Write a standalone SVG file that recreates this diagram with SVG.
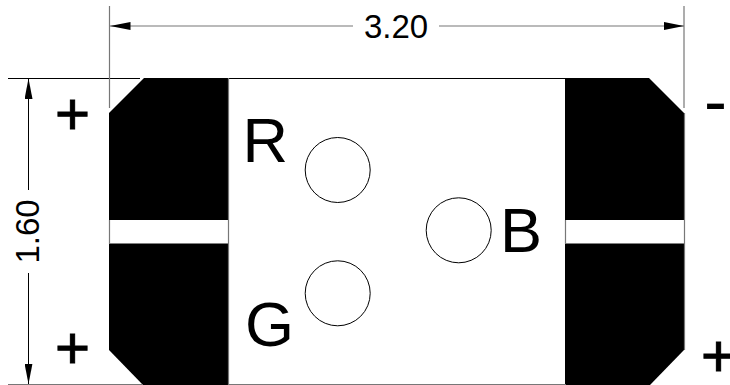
<svg xmlns="http://www.w3.org/2000/svg" width="730" height="385" viewBox="0 0 730 385">
<style>
.pad{fill:#000;stroke:none}
.dim{stroke:#000;stroke-width:1;fill:none}
.gdim{stroke:#777;stroke-width:1.2;fill:none}
.led{fill:#fff;stroke:#000;stroke-width:1}
text{font-family:"Liberation Sans",Arial,sans-serif;fill:#000}
.big{font-size:63px}
.dimt{font-size:33px}
.sign{font-size:60px;stroke:#000;stroke-width:1}
.minus{font-size:69px}
</style>
<defs>
<marker id="arr" markerUnits="userSpaceOnUse" markerWidth="21" markerHeight="8" refX="20.500" refY="4" orient="auto-start-reverse"><path d="M0 0L20.500 4L0 8Z" fill="#000"/></marker>
</defs>
<rect width="730" height="385" fill="#fff"/>
<g id="pad-top-left"><path class="pad" d="M109 113L144 78H228V220H109Z"/></g>
<g id="pad-bottom-left"><path class="pad" d="M109 243.500H228V385H143L109 350Z"/></g>
<g id="pad-top-right"><path class="pad" d="M565 78H649L684 113V220H565Z"/></g>
<g id="pad-bottom-right"><path class="pad" d="M565 243.500H684V350L650 385H565Z"/></g>
<g id="connectors">
<path class="dim" d="M8 78.500H140M228 78.500H566"/>
<path class="gdim" d="M8 384.500H143M228 384.500H566"/>
<path class="gdim" d="M109.500 6V108M684 6V108M228.500 78V385M565.500 220V244M109.500 220V244M684.500 113V350"/>
<path class="gdim" stroke-width="1.500" d="M110 26H353" marker-start="url(#arr)"/>
<path class="gdim" d="M439 26H684" marker-end="url(#arr)"/>
<path class="dim" d="M28.500 78.500V190" marker-start="url(#arr)"/>
<path class="dim" d="M28.500 273V384" marker-end="url(#arr)"/>
</g>
<g id="led-r"><circle class="led" cx="337.700" cy="170" r="32.500"/><text class="big" x="242.500" y="161.700">R</text></g>
<g id="led-g"><circle class="led" cx="337.700" cy="293.300" r="32.500"/><text class="big" x="245" y="345.500">G</text></g>
<g id="led-b"><circle class="led" cx="458.700" cy="230.300" r="32.500"/><text class="big" x="500" y="251.700">B</text></g>
<g id="dim-width"><text class="dimt" x="396" y="38" text-anchor="middle">3.20</text></g>
<g id="dim-height"><text class="dimt" transform="translate(39 231.500) rotate(-90)" text-anchor="middle">1.60</text></g>
<g id="sign-1"><text class="sign" x="55" y="134">+</text></g>
<g id="sign-2"><text class="sign" x="55" y="367.500">+</text></g>
<g id="sign-3"><text class="sign" x="701" y="376">+</text></g>
<g id="sign-4"><text class="minus" x="704" y="125">-</text></g>
</svg>
